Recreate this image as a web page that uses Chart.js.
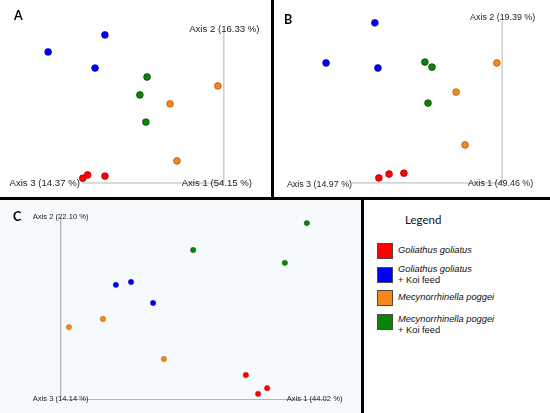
<!DOCTYPE html>
<html>
<head>
<meta charset="utf-8">
<script src="https://cdn.jsdelivr.net/npm/chart.js@4.4.1/dist/chart.umd.min.js"></script>
<style>
  html, body { margin: 0; padding: 0; background: #fff; }
  #page { position: relative; width: 550px; height: 413px; overflow: hidden; background: #fff;
          font-family: "Liberation Sans", Arial, sans-serif; }
  canvas { position: absolute; }
  .rule { position: absolute; background: #000; z-index: 5; }
  .axlbl { position: absolute; white-space: nowrap; color: #222; line-height: 1; z-index: 3; }
  .letter { position: absolute; font-family: Lato, sans-serif; font-weight: bold; font-size: 12.5px;
            line-height: 1; color: #000; }
  .legtitle { position: absolute; left: 405px; top: 214.3px; font-family: Lato, sans-serif;
              font-size: 11.5px; line-height: 1; color: #111; }
  .swatch { position: absolute; left: 377px; width: 16px; height: 16px; box-sizing: border-box;
            border: 1px solid #4a4a4a; }
  .legtxt { position: absolute; left: 398px; font-style: italic; font-size: 9.3px; line-height: 11.5px;
            color: #111; white-space: nowrap; }
  .legtxt span { font-style: normal; }
</style>
</head>
<body>
<div id="page">
  <canvas id="chartA" width="269" height="197" style="left:0;top:0;width:269px;height:197px"></canvas>
  <canvas id="chartB" width="278" height="196" style="left:272px;top:0;width:278px;height:196px"></canvas>
  <canvas id="chartC" width="361" height="213" style="left:0;top:200px;width:361px;height:213px;background:#f6fafc"></canvas>

  <div class="rule" style="left:0;top:197px;width:550px;height:3px"></div>
  <div class="rule" style="left:271px;top:0;width:3px;height:198px"></div>
  <div class="rule" style="left:361px;top:198px;width:3px;height:215px"></div>

  <div class="letter" style="left:14px;top:10px">A</div>
  <div class="letter" style="left:284px;top:14px">B</div>
  <div class="letter" style="left:13px;top:211px">C</div>

  <div class="legtitle">Legend</div>
  <div id="legend"></div>
</div>

<script>
// group names (legend order)
const groups = ['Goliathus goliatus', 'Goliathus goliatus', 'Mecynorrhinella poggei', 'Mecynorrhinella poggei'];
const groupSuffix = ['', '+ Koi feed', '', '+ Koi feed'];
const groupColors = ['#ff0000', '#0000ff', '#f7861c', '#0a850a'];
const groupEdges = ['#a00000', '#00009a', '#a85400', '#004400'];

// PCoA scores, [axis 1, axis 2]
const A_gol    = [[-0.173, -0.267], [-0.157, -0.256], [-0.099, -0.260]];
const A_golKoi = [[-0.099, 0.213], [-0.289, 0.156], [-0.132, 0.102]];
const A_mec    = [[0.279, 0.042], [0.119, -0.018], [0.142, -0.209]];
const A_mecKoi = [[0.042, 0.072], [0.018, 0.012], [0.038, -0.079]];

const B_gol    = [[-0.104, -0.269], [-0.071, -0.256], [-0.023, -0.253]];
const B_golKoi = [[-0.117, 0.253], [-0.275, 0.118], [-0.107, 0.101]];
const B_mec    = [[0.278, 0.118], [0.146, 0.020], [0.175, -0.158]];
const B_mecKoi = [[0.045, 0.121], [0.068, 0.104], [0.055, -0.017]];

const C_gol    = [[0.181, -0.193], [0.240, -0.230], [0.215, -0.246]];
const C_golKoi = [[-0.179, 0.061], [-0.137, 0.069], [-0.076, 0.010]];
const C_mec    = [[-0.309, -0.058], [-0.215, -0.035], [-0.046, -0.148]];
const C_mecKoi = [[0.350, 0.235], [0.035, 0.159], [0.289, 0.123]];

// axis frame of each projection (polyline through the axis ends)
const A_axisX = [-0.176, 0.299, 0.299];
const A_axisY = [-0.283, -0.283, 0.223];
const B_axisX = [-0.191, 0.295, 0.295];
const B_axisY = [-0.286, -0.286, 0.259];
const C_axisX = [-0.332, -0.332, 0.406];
const C_axisY = [0.252, -0.262, -0.262];

// axis labels: axis 1, axis 2, axis 3
const A_axisLabels = ['Axis 1 (54.15 %)', 'Axis 2 (16.33 %)', 'Axis 3 (14.37 %)'];
const B_axisLabels = ['Axis 1 (49.46 %)', 'Axis 2 (19.39 %)', 'Axis 3 (14.97 %)'];
const C_axisLabels = ['Axis 1 (44.02 %)', 'Axis 2 (22.10 %)', 'Axis 3 (14.14 %)'];

// legend (HTML)
const swatchTops = [243, 267, 290, 313.5];
const textTops = [244.7, 263.7, 291.7, 313.5];
const legend = document.getElementById('legend');
groups.forEach((g, i) => {
    const sw = document.createElement('div');
    sw.className = 'swatch';
    sw.style.top = swatchTops[i] + 'px';
    sw.style.background = groupColors[i];
    legend.appendChild(sw);
    const t = document.createElement('div');
    t.className = 'legtxt';
    t.style.top = textTops[i] + 'px';
    t.innerHTML = g + (groupSuffix[i] ? '<br><span>' + groupSuffix[i] + '</span>' : '');
    legend.appendChild(t);
});

const page = document.getElementById('page');

// places html axis labels at the axis ends using the chart scales
const axisLabelPlugin = {
    id: 'axisLabels',
    afterDraw(chart, args, opts) {
        const xs = chart.scales.x, ys = chart.scales.y;
        opts.items.forEach(it => {
            const px = xs.getPixelForValue(opts.axisX[it.pt]) + it.dx;
            const py = ys.getPixelForValue(opts.axisY[it.pt]) + it.dy;
            it.el.style.left = (opts.left + px) + 'px';
            it.el.style.top = (opts.top + py) + 'px';
            const tx = it.align === 'right' ? '-100%' : '-50%';
            it.el.style.transform = 'translate(' + tx + ',-50%)';
        });
    }
};

function makePanel(id, sets, axisX, axisY, labels, lay) {
    const pts = arr => arr.map(p => ({ x: p[0], y: p[1] }));
    const datasets = sets.map((s, i) => ({
        data: pts(s),
        backgroundColor: groupColors[i],
        borderColor: groupEdges[i],
        borderWidth: lay.edge,
        pointRadius: lay.radius,
        clip: false,
        order: 1
    }));
    datasets.push({
        data: axisX.map((x, i) => ({ x: x, y: axisY[i] })),
        showLine: true,
        borderColor: '#b4b4b4',
        borderWidth: 1,
        pointRadius: 0,
        fill: false,
        order: 9
    });

    const items = lay.labels.map((l, i) => {
        const el = document.createElement('div');
        el.className = 'axlbl';
        el.style.fontSize = lay.font + 'px';
        el.textContent = labels[i];
        page.appendChild(el);
        return Object.assign({ el: el }, l);
    });

    return new Chart(document.getElementById(id), {
        type: 'scatter',
        data: { datasets: datasets },
        options: {
            responsive: false,
            animation: false,
            layout: { padding: 0, autoPadding: false },
            scales: {
                x: { type: 'linear', display: false, min: lay.xMin, max: lay.xMax },
                y: { type: 'linear', display: false, min: lay.yMin, max: lay.yMax }
            },
            plugins: {
                legend: { display: false },
                tooltip: { enabled: false },
                axisLabels: { items: items, axisX: axisX, axisY: axisY, left: lay.left, top: lay.top }
            }
        },
        plugins: [axisLabelPlugin]
    });
}

makePanel('chartA', [A_gol, A_golKoi, A_mec, A_mecKoi], A_axisX, A_axisY, A_axisLabels, {
    left: 0, top: 0, xMin: -0.45, xMax: 0.45, yMin: -0.33, yMax: 0.33,
    radius: 3.4, edge: 0.7, font: 9.6,
    labels: [{ pt: 1, dx: -7, dy: 0.3 }, { pt: 2, dx: 0.5, dy: -2.5 }, { pt: 0, dx: -2, dy: 0.3, align: 'right' }]
});

makePanel('chartB', [B_gol, B_golKoi, B_mec, B_mecKoi], B_axisX, B_axisY, B_axisLabels, {
    left: 272, top: 0, xMin: -0.45, xMax: 0.45, yMin: -0.33, yMax: 0.33,
    radius: 3.4, edge: 0.7, font: 8.9,
    labels: [{ pt: 1, dx: -1.5, dy: 0.5 }, { pt: 2, dx: 0.5, dy: -4 }, { pt: 0, dx: 0, dy: 1, align: 'right' }]
});

makePanel('chartC', [C_gol, C_golKoi, C_mec, C_mecKoi], C_axisX, C_axisY, C_axisLabels, {
    left: 0, top: 200, xMin: -0.5, xMax: 0.5, yMin: -0.3, yMax: 0.3,
    radius: 2.7, edge: 0.4, font: 7.6,
    labels: [{ pt: 2, dx: -12.5, dy: -0.3 }, { pt: 0, dx: 0, dy: 0.3 }, { pt: 1, dx: 0, dy: -0.3 }]
});
</script>
</body>
</html>
